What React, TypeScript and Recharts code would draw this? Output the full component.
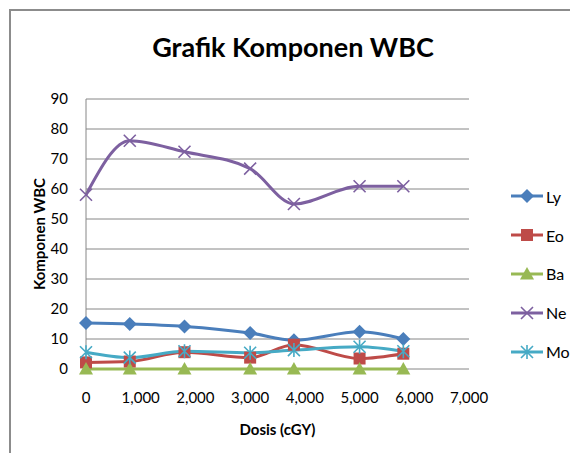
import React from "react";
import { LineChart, Line, XAxis, YAxis, CartesianGrid, Label } from "recharts";

const dosis = [0, 800, 1800, 3000, 3800, 5000, 5800];
const ly = [15.3, 15.0, 14.2, 12.0, 9.6, 12.4, 10.0];
const eo = [2.2, 2.5, 5.6, 3.8, 8.1, 3.5, 5.1];
const ba = [0, 0, 0, 0, 0, 0, 0];
const ne = [58.1, 76.1, 72.4, 66.8, 55.0, 60.9, 60.9];
const mo = [5.6, 3.8, 5.9, 5.4, 6.3, 7.4, 5.9];
const xTicks = [0, 1000, 2000, 3000, 4000, 5000, 6000, 7000];
const yTicks = [0, 10, 20, 30, 40, 50, 60, 70, 80, 90];

const data = dosis.map((d, i) => ({ dosis: d, Ly: ly[i], Eo: eo[i], Ba: ba[i], Ne: ne[i], Mo: mo[i] }));

const FONT = "Lato, 'Open Sans', sans-serif";

const series = [
  { key: "Ly", color: "#4A7EBB", shape: "diamond" },
  { key: "Eo", color: "#BE4B48", shape: "square" },
  { key: "Ba", color: "#98B954", shape: "triangle" },
  { key: "Ne", color: "#7D60A0", shape: "x" },
  { key: "Mo", color: "#46AAC5", shape: "star" },
];

function Marker({ shape, color, cx, cy }: { shape: string; color: string; cx: number; cy: number }) {
  if (shape === "diamond") {
    const r = 7;
    return <path d={`M${cx},${cy - r}L${cx + r},${cy}L${cx},${cy + r}L${cx - r},${cy}Z`} fill={color} />;
  }
  if (shape === "square") {
    const r = 6;
    return <rect x={cx - r} y={cy - r} width={r * 2} height={r * 2} fill={color} />;
  }
  if (shape === "triangle") {
    const r = 7;
    return <path d={`M${cx},${cy - r}L${cx + r},${cy + r * 0.8}L${cx - r},${cy + r * 0.8}Z`} fill={color} />;
  }
  if (shape === "x") {
    const r = 6;
    return (
      <path d={`M${cx - r},${cy - r}L${cx + r},${cy + r}M${cx - r},${cy + r}L${cx + r},${cy - r}`} stroke={color} strokeWidth={1.6} fill="none" />
    );
  }
  const r = 6;
  return (
    <path
      d={`M${cx - r},${cy - r}L${cx + r},${cy + r}M${cx - r},${cy + r}L${cx + r},${cy - r}M${cx},${cy - r - 1}L${cx},${cy + r + 1}`}
      stroke={color}
      strokeWidth={1.6}
      fill="none"
    />
  );
}

function makeDot(shape: string, color: string) {
  return (props: any) => (
    <g key={`${shape}-${props.index}`}>
      <Marker shape={shape} color={color} cx={props.cx} cy={props.cy} />
    </g>
  );
}

function LegendBox() {
  return (
    <div style={{ position: "absolute", left: 510, top: 177, fontFamily: FONT }}>
      {series.map((s) => (
        <div key={s.key} style={{ display: "flex", alignItems: "center", height: 38.8 }}>
          <svg width={34} height={20}>
            <line x1={1} y1={10} x2={33} y2={10} stroke={s.color} strokeWidth={3} />
            <Marker shape={s.shape} color={s.color} cx={17} cy={10} />
          </svg>
          <span style={{ fontSize: 16, color: "#000", marginLeft: 2 }}>{s.key}</span>
        </div>
      ))}
    </div>
  );
}

export default function App() {
  return (
    <div style={{ position: "relative", width: 578, height: 461, margin: -8, overflow: "hidden", background: "#fff" }}>
      <div
        style={{
          position: "absolute",
          left: 9,
          top: 9,
          width: 620,
          height: 500,
          borderLeft: "2px solid #8c8c8c",
          borderTop: "2px solid #8c8c8c",
        }}
      />
      <div
        style={{
          position: "absolute",
          left: 0,
          top: 30,
          width: 586,
          textAlign: "center",
          fontFamily: FONT,
          fontWeight: 700,
          fontSize: 27,
          color: "#000",
        }}
      >
        Grafik Komponen WBC
      </div>
      <div style={{ position: "absolute", left: 0, top: 0 }}>
        <LineChart width={578} height={461} data={data} margin={{ top: 99, right: 109, bottom: 12, left: 26 }}>
          <CartesianGrid horizontal vertical={false} stroke="#868686" strokeWidth={1} />
          <XAxis
            dataKey="dosis"
            type="number"
            domain={[0, 7000]}
            ticks={xTicks}
            tickFormatter={(v: number) => v.toLocaleString("en-US")}
            axisLine={false}
            tickLine={false}
            tick={{ fontSize: 15, fill: "#000", fontFamily: FONT }}
            tickMargin={17}
            height={80}
            interval={0}
          >
            <Label value="Dosis (cGY)" position="insideBottom" offset={14} style={{ fontSize: 15, fontWeight: 700, fill: "#000", fontFamily: FONT }} />
          </XAxis>
          <YAxis
            type="number"
            domain={[0, 90]}
            ticks={yTicks}
            axisLine={{ stroke: "#868686" }}
            tickLine={false}
            tick={{ fontSize: 15, fill: "#000", fontFamily: FONT }}
            tickMargin={12}
            width={60}
            interval={0}
          >
            <Label
              value="Komponen WBC"
              angle={-90}
              position="insideLeft"
              offset={14}
              style={{ textAnchor: "middle", fontSize: 15, fontWeight: 700, fill: "#000", fontFamily: FONT }}
            />
          </YAxis>
          {series.map((s) => (
            <Line
              key={s.key}
              dataKey={s.key}
              type="monotone"
              stroke={s.color}
              strokeWidth={3}
              dot={makeDot(s.shape, s.color)}
              activeDot={false}
              isAnimationActive={false}
            />
          ))}
        </LineChart>
      </div>
      <LegendBox />
    </div>
  );
}
